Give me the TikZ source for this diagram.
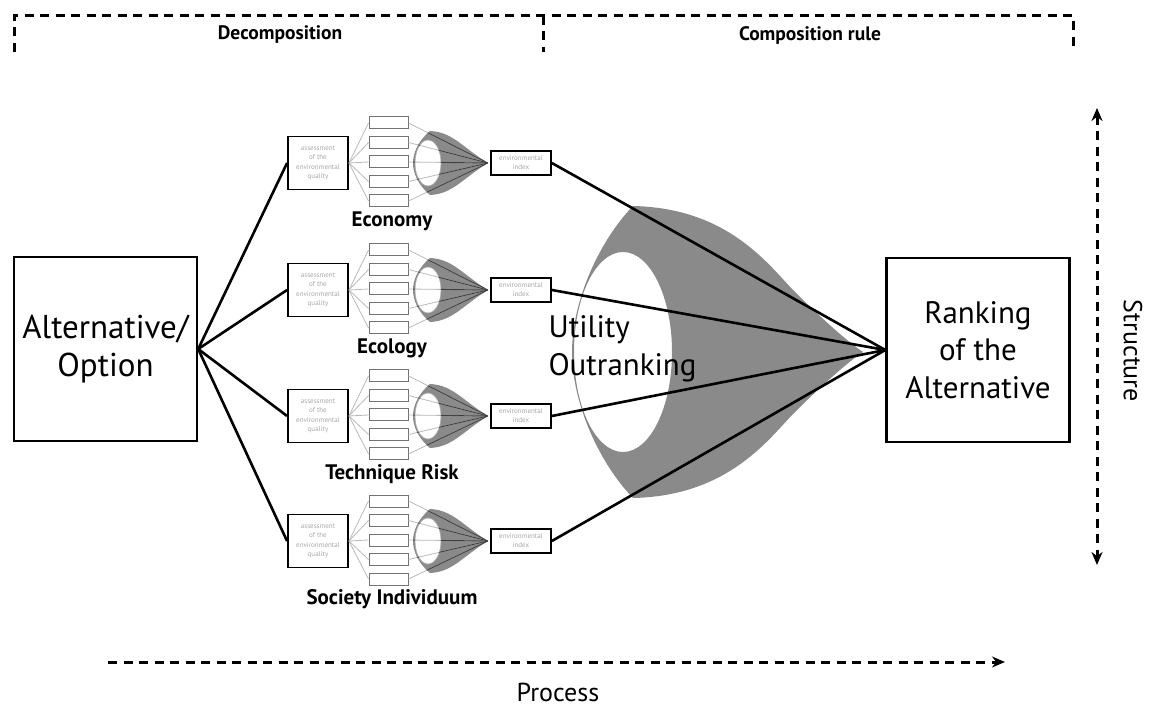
\documentclass[tikz,border=0pt]{standalone}
\usepackage{fontspec}
\setmainfont{PT Sans}
\usetikzlibrary{arrows.meta,positioning}

\definecolor{lensgray}{RGB}{138,138,138}

\tikzset{
  bigbox/.style={draw, line width=2.4pt, minimum width=183pt, minimum height=184pt, align=center},
  assessbox/.style={draw, line width=1.9pt, minimum width=60pt, minimum height=53pt, align=center, text=gray!70, font=\fontsize{7}{9.5}\selectfont, inner sep=0pt},
  subbox/.style={draw=black!55, line width=1pt, minimum width=39pt, minimum height=12pt, inner sep=0pt},
  idxbox/.style={draw, line width=1.7pt, minimum width=60pt, minimum height=24pt, align=center, text=gray!70, font=\fontsize{7}{9}\selectfont, inner sep=0pt},
  grouplabel/.style={font=\bfseries\fontsize{21}{24}\selectfont},
  headlabel/.style={font=\bfseries\fontsize{19.5}{22}\selectfont},
  bigtext/.style={font=\fontsize{31}{37.5}\selectfont},
  axislabel/.style={font=\fontsize{26}{28}\selectfont},
  link/.style={line width=2.6pt},
  thinlink/.style={gray!55, line width=0.8pt},
  darklink/.style={black!75, line width=0.9pt},
  dashline/.style={line width=3pt, dash pattern=on 9pt off 6.5pt},
}

\begin{document}
\begin{tikzpicture}[x=1pt, y=-1pt]
\useasboundingbox (0,0) rectangle (1149,708);

% header bracket
\coordinate (hl) at (14,16);
\coordinate (hm) at (543,16);
\coordinate (hr) at (1073,16);
\coordinate (hl-b) at (14,52);
\coordinate (hm-b) at (543,52);
\coordinate (hr-b) at (1073,52);
\draw[dashline] (hl-b) -- (hl) -- (hr) -- (hr-b);
\draw[dashline] (hm) -- (hm-b);
\node[headlabel] (decomp) at (280,35) {Decomposition};
\node[headlabel] (comprule) at (810,35) {Composition rule};

% main boxes
\node[bigbox, bigtext, font=\fontsize{33}{37.5}\selectfont] (alt) at (105.5,349) {Alternative/\\Option};
\node[bigbox, bigtext] (rank) at (978,350) {Ranking\\of the\\Alternative};

% big lens
\fill[lensgray, even odd rule] (863,352) .. controls (845,340) and (815,312) .. (795,292)
  .. controls (770,267) and (730,208) .. (633,206)
  .. controls (600,240) and (572,300) .. (572,352)
  .. controls (572,404) and (600,464) .. (633,498)
  .. controls (730,496) and (770,437) .. (795,412)
  .. controls (815,392) and (845,364) .. (863,352) -- cycle
  (623,352) ellipse [x radius=49, y radius=100];
\node[bigtext, align=left, anchor=west] (method) at (545,349) {Utility\\Outranking};

% the four criteria
\foreach \gy/\gname/\gtext in {163/eco/Economy, 290/ecl/Ecology, 416/tec/Technique Risk, 541/soc/Society Individuum} {
  \node[assessbox] (as-\gname) at (318,\gy) {assessment\\of the\\environmental\\quality};
  \node[idxbox] (idx-\gname) at (521,\gy) {environmental\\index};
  \node[grouplabel] (lbl-\gname) at (392,\gy+58) {\gtext};
  \coordinate (tip-\gname) at (488,\gy);
  \foreach \i in {0,...,4} {
    \node[subbox] (sub-\gname-\i) at (388.5,\gy-40+19.5*\i) {};
    \draw[thinlink] (as-\gname.east) -- (sub-\gname-\i.west);
  }
  \begin{scope}[shift={(488,\gy)}]
    \fill[lensgray, even odd rule] (0,0) .. controls (-25,-15) and (-35,-31) .. (-58,-32)
      .. controls (-70,-22) and (-75,-10) .. (-75,0)
      .. controls (-75,10) and (-70,22) .. (-58,32)
      .. controls (-35,31) and (-25,15) .. (0,0) -- cycle
      (-60,0) ellipse [x radius=13, y radius=23];
    \draw[gray!60, line width=0.7pt] (-60,0) ellipse [x radius=13, y radius=23];
  \end{scope}
  \foreach \i in {0,...,4}
    \draw[thinlink] (sub-\gname-\i.east) -- (tip-\gname);
  \begin{scope}[shift={(488,\gy)}, even odd rule]
    \clip (0,0) .. controls (-25,-15) and (-35,-31) .. (-58,-32)
      .. controls (-70,-22) and (-75,-10) .. (-75,0)
      .. controls (-75,10) and (-70,22) .. (-58,32)
      .. controls (-35,31) and (-25,15) .. (0,0) -- cycle
      (-60,0) ellipse [x radius=13, y radius=23];
    \foreach \i in {0,...,4}
      \draw[darklink] (sub-\gname-\i.east) -- (tip-\gname);
  \end{scope}
  \draw[link] (alt.east) -- (as-\gname.west);
  \draw[link] (idx-\gname.east) -- (rank.west);
}

% structure and process arrows
\coordinate (st-top) at (1097,108);
\coordinate (st-bot) at (1097,565);
\draw[dashline, {Stealth[length=13pt,width=11pt]}-{Stealth[length=13pt,width=11pt]}] (st-top) -- (st-bot);
\node[axislabel, rotate=-90] (struct) at (1133,351) {Structure};

\coordinate (pr-start) at (108,662);
\coordinate (pr-end) at (1005,662);
\draw[dashline, -{Stealth[length=13pt,width=11pt]}] (pr-start) -- (pr-end);
\node[axislabel] (proc) at (558,692) {Process};
\end{tikzpicture}
\end{document}
